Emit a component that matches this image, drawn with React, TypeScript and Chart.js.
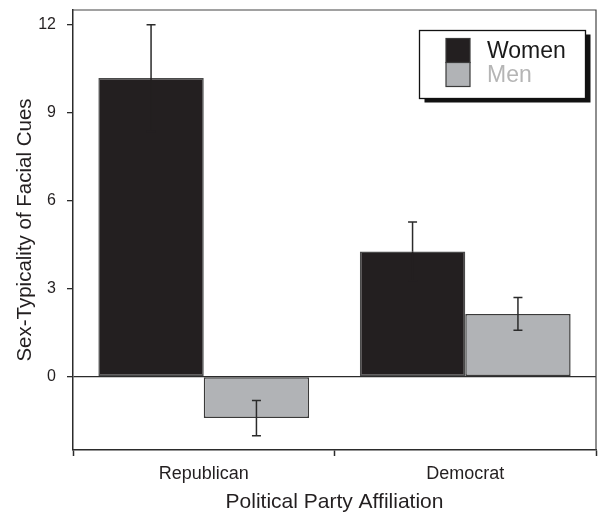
import React, { useEffect, useRef } from "react";
import { Chart, registerables } from "chart.js";

Chart.register(...registerables);

const categories = ["Republican", "Democrat"];
const seriesNames = ["Women", "Men"];
const womenValues = [10.18, 4.27];
const menValues = [-1.41, 2.14];
const womenErrors = [1.82, 1.0];
const menErrors = [0.6, 0.56];
const yTicks = [0, 3, 6, 9, 12];
const yMin = -2.5;
const yMax = 12.5;

const FONT = '"Liberation Sans", Arial, Helvetica, sans-serif';
const WOMEN_FILL = "#231f20";
const MEN_FILL = "#b1b3b6";
const LINE = "#2b2b2b";

const errorSets = [womenErrors, menErrors];
const fills = [WOMEN_FILL, MEN_FILL];
const insideErrorColors = [WOMEN_FILL, LINE];
const legendTextColors = ["#1a1a1a", "#b5b5b5"];

const errorBarPlugin = {
  id: "errorBars",
  afterDatasetsDraw(chart: any) {
    const ctx = chart.ctx;
    const y = chart.scales.y;
    chart.data.datasets.forEach((ds: any, i: number) => {
      const meta = chart.getDatasetMeta(i);
      const errs = errorSets[i];
      meta.data.forEach((el: any, j: number) => {
        const v = ds.data[j];
        const e = errs[j];
        const x = el.x;
        const yVal = y.getPixelForValue(v);
        const yTop = y.getPixelForValue(v + e);
        const yBot = y.getPixelForValue(v - e);
        const outerIsTop = v >= 0;
        const yOut = outerIsTop ? yTop : yBot;
        const yIn = outerIsTop ? yBot : yTop;
        ctx.save();
        ctx.lineWidth = 1.5;
        ctx.strokeStyle = LINE;
        ctx.beginPath();
        ctx.moveTo(x, yVal);
        ctx.lineTo(x, yOut);
        ctx.moveTo(x - 4.5, yOut);
        ctx.lineTo(x + 4.5, yOut);
        ctx.stroke();
        ctx.strokeStyle = insideErrorColors[i];
        ctx.beginPath();
        ctx.moveTo(x, yVal);
        ctx.lineTo(x, yIn);
        ctx.moveTo(x - 4.5, yIn);
        ctx.lineTo(x + 4.5, yIn);
        ctx.stroke();
        ctx.restore();
      });
    });
  },
};

const framePlugin = {
  id: "frame",
  afterDraw(chart: any) {
    const { ctx, chartArea } = chart;
    ctx.save();
    ctx.strokeStyle = "#444";
    ctx.lineWidth = 1.2;
    ctx.beginPath();
    ctx.moveTo(chartArea.left, chartArea.top);
    ctx.lineTo(chartArea.right, chartArea.top);
    ctx.lineTo(chartArea.right, chartArea.bottom);
    ctx.stroke();
    ctx.restore();
  },
};

const boxLegendPlugin = {
  id: "boxLegend",
  afterDraw(chart: any) {
    const { ctx, chartArea } = chart;
    const bw = 166;
    const bh = 68;
    const bx = chartArea.right - 10.5 - bw;
    const by = chartArea.top + 20.5;
    ctx.save();
    ctx.fillStyle = "#111";
    ctx.fillRect(bx + 5, by + 4, bw, bh);
    ctx.fillStyle = "#fff";
    ctx.fillRect(bx, by, bw, bh);
    ctx.strokeStyle = "#111";
    ctx.lineWidth = 1.3;
    ctx.strokeRect(bx, by, bw, bh);
    const sx = bx + 26.5;
    const sy = by + 8;
    const ss = 24;
    seriesNames.forEach((name, i) => {
      ctx.fillStyle = fills[i];
      ctx.fillRect(sx, sy + i * ss, ss, ss);
      ctx.strokeStyle = "#3a3a3a";
      ctx.lineWidth = 1.2;
      ctx.strokeRect(sx, sy + i * ss, ss, ss);
      ctx.fillStyle = legendTextColors[i];
      ctx.font = `23px ${FONT}`;
      ctx.textBaseline = "middle";
      ctx.textAlign = "left";
      ctx.fillText(name, bx + 67.5, sy + i * ss + ss / 2 + 1);
    });
    ctx.restore();
  },
};

export default function App() {
  const canvasRef = useRef<HTMLCanvasElement | null>(null);

  useEffect(() => {
    const canvas = canvasRef.current;
    if (!canvas) return;
    const chart = new Chart(canvas, {
      type: "bar",
      data: {
        labels: categories,
        datasets: [
          {
            label: seriesNames[0],
            data: womenValues,
            backgroundColor: WOMEN_FILL,
            borderColor: "#4a4a4a",
            borderWidth: 1.5,
            borderSkipped: false,
          },
          {
            label: seriesNames[1],
            data: menValues,
            backgroundColor: MEN_FILL,
            borderColor: "#3a3a3a",
            borderWidth: 1.5,
            borderSkipped: false,
          },
        ],
      },
      options: {
        responsive: false,
        animation: false,
        events: [],
        layout: { padding: { left: 0, top: 10, right: 2, bottom: 0 } },
        datasets: {
          bar: { categoryPercentage: 0.806, barPercentage: 1.0 },
        },
        plugins: {
          legend: { display: false },
          tooltip: { enabled: false },
          title: { display: false },
        },
        scales: {
          x: {
            type: "category",
            offset: true,
            afterFit(scale: any) {
              scale.height = 63;
              scale.paddingLeft = 0;
              scale.paddingRight = 0;
            },
            grid: {
              offset: true,
              drawOnChartArea: false,
              drawTicks: true,
              tickLength: 6,
              tickColor: LINE,
              tickWidth: 1.5,
            },
            border: { display: true, color: LINE, width: 1.5 },
            ticks: {
              color: "#231f20",
              font: { family: FONT, size: 18 },
              padding: 7,
              maxRotation: 0,
            },
            title: {
              display: true,
              text: "Political Party Affiliation",
              color: "#231f20",
              font: { family: FONT, size: 21, lineHeight: 1 },
              padding: { top: 0, bottom: 0 },
            },
          },
          y: {
            type: "linear",
            min: yMin,
            max: yMax,
            afterFit(scale: any) {
              scale.width = 73;
              scale.paddingTop = 0;
              scale.paddingBottom = 0;
            },
            afterBuildTicks(scale: any) {
              scale.ticks = yTicks.map((v) => ({ value: v }));
            },
            grid: {
              drawOnChartArea: true,
              drawTicks: true,
              tickLength: 6,
              color: (c: any) => (c.tick && c.tick.value === 0 ? LINE : "rgba(0,0,0,0)"),
              tickColor: LINE,
              lineWidth: 1.3,
              tickWidth: 1.3,
            },
            border: { display: true, color: LINE, width: 1.5 },
            ticks: {
              color: "#231f20",
              font: { family: FONT, size: 16 },
              padding: 11,
            },
            title: {
              display: true,
              text: "Sex-Typicality of Facial Cues",
              color: "#231f20",
              font: { family: FONT, size: 20.5, lineHeight: 1.2 },
              padding: { top: 13, bottom: 0 },
            },
          },
        },
      },
      plugins: [errorBarPlugin, framePlugin, boxLegendPlugin],
    } as any);
    return () => chart.destroy();
  }, []);

  return (
    <div style={{ position: "absolute", left: 0, top: 0, width: 598, height: 513, background: "#fff" }}>
      <canvas ref={canvasRef} width={598} height={513} style={{ width: 598, height: 513, display: "block" }} />
    </div>
  );
}
